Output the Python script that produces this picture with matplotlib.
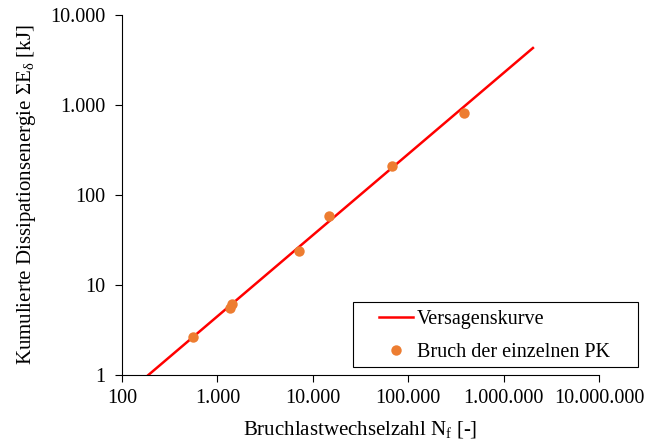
import matplotlib
matplotlib.use("Agg")
import matplotlib.pyplot as plt
from matplotlib.patches import Rectangle
from matplotlib.ticker import FuncFormatter, NullLocator

plt.rcParams['font.family'] = ['Liberation Serif', 'DejaVu Serif']
plt.rcParams['mathtext.fontset'] = 'custom'
plt.rcParams['mathtext.rm'] = 'Liberation Serif'
plt.rcParams['mathtext.it'] = 'Liberation Serif:italic'

# Versagenskurve (Endpunkte der Geraden im log-log-Diagramm)
kurve_n = [189, 2030000]
kurve_e = [1, 4300]

# Bruch der einzelnen Prüfkörper
bruch_n = [551, 1350, 1410, 7230, 14800, 67100, 385000]
bruch_e = [2.62, 5.6, 6.1, 24.0, 58.4, 212, 809]

x_ticks = [100, 1000, 10000, 100000, 1000000, 10000000]
y_ticks = [1, 10, 100, 1000, 10000]

W, H = 646, 443


def de_format(v, pos=None):
    return f"{int(round(v)):,}".replace(',', '.')


fig = plt.figure(figsize=(W / 100, H / 100), dpi=100)
ax = fig.add_axes([122 / W, 1 - 375 / H, (599 - 122) / W, (375 - 15) / H])

ax.plot(kurve_n, kurve_e, color='#FF0000', lw=1.8, label='Versagenskurve', zorder=2)
ax.plot(bruch_n, bruch_e, 'o', color='#ED7D31', ms=7.5, mec='none',
        label='Bruch der einzelnen PK', zorder=3)

ax.set_xscale('log')
ax.set_yscale('log')
ax.set_xlim(100, 10000000)
ax.set_ylim(1, 10000)
ax.set_xticks(x_ticks)
ax.set_yticks(y_ticks)
ax.xaxis.set_major_formatter(FuncFormatter(de_format))
ax.yaxis.set_major_formatter(FuncFormatter(de_format))
ax.xaxis.set_minor_locator(NullLocator())
ax.yaxis.set_minor_locator(NullLocator())
ax.tick_params(direction='out', length=5, width=0.8, labelsize=14.5, colors='black')
ax.tick_params(axis='x', pad=5)
ax.tick_params(axis='y', pad=7)

for s in ['top', 'right']:
    ax.spines[s].set_visible(False)
for s in ['left', 'bottom']:
    ax.spines[s].set_linewidth(0.8)

ax.set_xlabel('Bruchlastwechselzahl N$_\\mathrm{f}$ [-]', fontsize=15, labelpad=8)
ax.set_ylabel('Kumulierte Dissipationsenergie ΣE$_\\mathrm{δ}$ [kJ]', fontsize=15, labelpad=9)

# Legendenrahmen (ragt über die Achse hinaus)
ax.add_patch(Rectangle((353 / W, 1 - 367 / H), (638 - 353) / W, (367 - 302) / H,
                       transform=fig.transFigure, facecolor='white',
                       edgecolor='black', lw=0.8, zorder=4, clip_on=False))
leg = ax.legend(loc='upper left', bbox_to_anchor=(379 / W, 1 - 310 / H),
                bbox_transform=fig.transFigure, fontsize=14.5, frameon=False,
                borderpad=0, handlelength=1.7, handletextpad=0.2,
                labelspacing=0.68, borderaxespad=0)
leg.set_zorder(5)

fig.savefig('out.png', dpi=100)
